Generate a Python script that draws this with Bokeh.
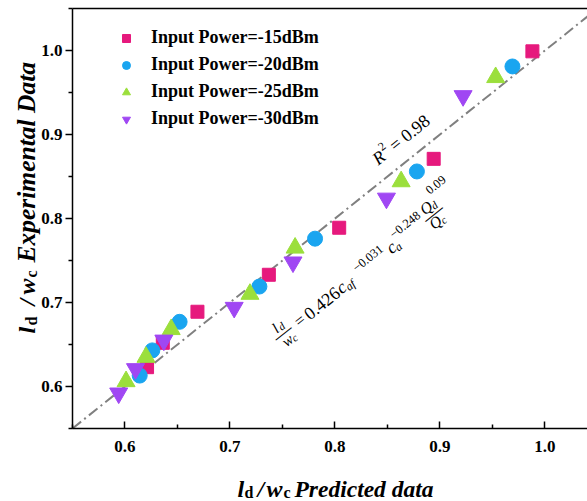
import math
from bokeh.plotting import figure
from bokeh.models import Label, Range1d, Legend, LegendItem, FixedTicker, PrintfTickFormatter, LinearAxis
from bokeh.embed import file_html
from bokeh.resources import INLINE

# ---------------- data ----------------
labels = ["Input Power=-15dBm", "Input Power=-20dBm", "Input Power=-25dBm", "Input Power=-30dBm"]

pred_15 = [0.621, 0.636, 0.669, 0.737, 0.804, 0.894, 0.988]
exp_15 = [0.623, 0.652, 0.689, 0.733, 0.789, 0.871, 0.999]

pred_20 = [0.614, 0.626, 0.652, 0.728, 0.781, 0.878, 0.969]
exp_20 = [0.613, 0.643, 0.677, 0.719, 0.776, 0.856, 0.981]

pred_25 = [0.601, 0.620, 0.644, 0.719, 0.762, 0.863, 0.953]
exp_25 = [0.606, 0.635, 0.668, 0.710, 0.765, 0.844, 0.968]

pred_30 = [0.594, 0.610, 0.637, 0.704, 0.760, 0.849, 0.922]
exp_30 = [0.592, 0.621, 0.655, 0.694, 0.748, 0.824, 0.946]

fit_x = [0.55, 1.05]
fit_y = [0.55, 1.05]

axis_lo, axis_hi = 0.55, 1.05
x_ticks = [0.6, 0.7, 0.8, 0.9, 1.0]
x_minor = [0.55, 0.65, 0.75, 0.85, 0.95, 1.05]
y_ticks = [0.6, 0.7, 0.8, 0.9, 1.0]
y_minor = [0.55, 0.65, 0.75, 0.85, 0.95, 1.05]

W, H = 587, 501

# ---------------- figure ----------------
# the frame fills the canvas; the axes are pinned at 0.55 so the titles stay inside the frame
p = figure(width=W, height=H,
           x_range=Range1d(0.48143, 1.04048), y_range=Range1d(0.46310, 1.05952),
           output_backend="svg", toolbar_location=None, min_border=0)
p.xgrid.visible = False
p.ygrid.visible = False
p.outline_line_color = None
p.background_fill_color = "white"
p.border_fill_color = "white"

SERIF = "Liberation Serif"

xa = p.below[0]
ya = p.left[0]

for ax in (xa, ya):
    ax.fixed_location = axis_lo
    ax.bounds = (axis_lo, axis_hi)
    ax.axis_line_color = "black"
    ax.axis_line_width = 1.5
    ax.major_tick_line_color = "black"
    ax.major_tick_line_width = 1.5
    ax.minor_tick_line_color = "black"
    ax.minor_tick_line_width = 1.5
    ax.major_label_text_font = SERIF
    ax.major_label_text_font_style = "bold"
    ax.major_label_text_font_size = "17px"
    ax.major_label_text_color = "black"
    ax.formatter = PrintfTickFormatter(format="%.1f")
    ax.axis_label = None

xa.ticker = FixedTicker(ticks=x_ticks, minor_ticks=x_minor)
ya.ticker = FixedTicker(ticks=y_ticks, minor_ticks=y_minor)
xa.major_tick_in = 7
xa.major_tick_out = 0
xa.minor_tick_in = 4
xa.minor_tick_out = 0
xa.major_label_standoff = 12
ya.major_tick_in = 0
ya.major_tick_out = 7
ya.minor_tick_in = 0
ya.minor_tick_out = 4
ya.major_label_standoff = 3

# top border of the box (an axis without ticks)
top_axis = LinearAxis(fixed_location=axis_hi, bounds=(axis_lo, 1.04048),
                      ticker=FixedTicker(ticks=[], minor_ticks=[]),
                      major_tick_line_color=None, minor_tick_line_color=None,
                      axis_line_width=1.5, axis_line_color="black", axis_label=None)
p.add_layout(top_axis, "above")

# fit line
p.line(fit_x, fit_y, line_color="#808080", line_width=2, line_dash="11 4 2 4")

r1 = p.scatter(pred_15, exp_15, marker="square", size=13, fill_color="#E6197D", line_color="#E6197D")
r2 = p.scatter(pred_20, exp_20, marker="circle", size=15, fill_color="#1AA5F0", line_color="#1AA5F0")
r3 = p.scatter(pred_25, exp_25, marker="triangle", size=18, fill_color="#9BDF3C", line_color="#9BDF3C")
r4 = p.scatter(pred_30, exp_30, marker="inverted_triangle", size=18, fill_color="#A047F3", line_color="#A047F3")

legend = Legend(items=[LegendItem(label=labels[0], renderers=[r1]),
                       LegendItem(label=labels[1], renderers=[r2]),
                       LegendItem(label=labels[2], renderers=[r3]),
                       LegendItem(label=labels[3], renderers=[r4])],
                location=(116, 372), padding=0, margin=0, spacing=6,
                glyph_width=20, glyph_height=20, label_height=20, label_standoff=15,
                border_line_color=None, background_fill_alpha=0,
                label_text_font=SERIF, label_text_font_style="bold",
                label_text_font_size="18px", label_text_color="black")
p.add_layout(legend)


def add_rich(pieces, ix, iy, theta, align="left", baseline="alphabetic"):
    """pieces placed along a (possibly rotated) baseline starting at picture point (ix, iy)"""
    ox, oy = ix, H - iy
    c, s = math.cos(theta), math.sin(theta)
    for text, a, b, size, style in pieces:
        x = ox + a * c - b * s
        y = oy + a * s + b * c
        p.add_layout(Label(x=x, y=y, x_units="screen", y_units="screen", text=text,
                           angle=theta, text_align=align, text_baseline=baseline,
                           text_font=SERIF, text_font_size=f"{size}px",
                           text_font_style=style, text_color="black"))


# x axis title
add_rich([("l", 0, 0, 24, "bold italic"),
          ("d", 7, -4, 16, "bold"),
          ("/", 20, 0, 24, "bold italic"),
          ("w", 29, 0, 24, "bold italic"),
          ("c", 46, -4, 16, "bold"),
          ("Predicted data", 57, 0, 23.5, "bold italic")], 237, 488, 0.0)

# y axis title
add_rich([("l", 0, 0, 24, "bold italic"),
          ("d", 8, -5, 16, "bold"),
          ("/", 28, 0, 24, "bold italic"),
          ("w", 39, 0, 24, "bold italic"),
          ("c", 56, -5, 16, "bold"),
          ("Experimental Data", 71, 0, 25.5, "bold italic")], 26, 333, math.pi / 2)

theta = math.atan2(840, 1050)

# R^2 annotation
add_rich([("R", -30.5, 0, 18, "italic"),
          ("2", -21, 7, 12, "normal"),
          ("= 0.98", 9, 0, 18, "normal")], 402, 138, theta, align="center", baseline="middle")

# equation
add_rich([("l", -24, 9, 15, "italic"),
          ("d", -18, 7, 11, "italic"),
          ("\u2014", -21, 2, 20, "normal"),
          ("w", -22, -8, 15, "italic"),
          ("c", -15, -10, 11, "italic"),
          ("=", 0, 0, 17, "normal"),
          ("0.426", 28, 0, 18, "normal"),
          ("c", 53, 0, 18, "italic"),
          ("af", 61.5, -4, 12, "italic"),
          ("\u22120.031", 92, 6, 12.5, "normal"),
          ("c", 117, 0, 18, "italic"),
          ("a", 123, -4, 12, "italic"),
          ("\u22120.248", 142, 9, 12.5, "normal"),
          ("Q", 169, 9, 16, "italic"),
          ("d", 177, 6, 11, "italic"),
          ("\u2014", 171, 1, 22, "normal"),
          ("Q", 167, -8, 16, "italic"),
          ("c", 175, -11, 11, "italic"),
          ("0.09", 191, 21, 12.5, "normal")], 299.3, 320, theta, align="center", baseline="middle")

open("out.html", "w").write(file_html(p, INLINE))
